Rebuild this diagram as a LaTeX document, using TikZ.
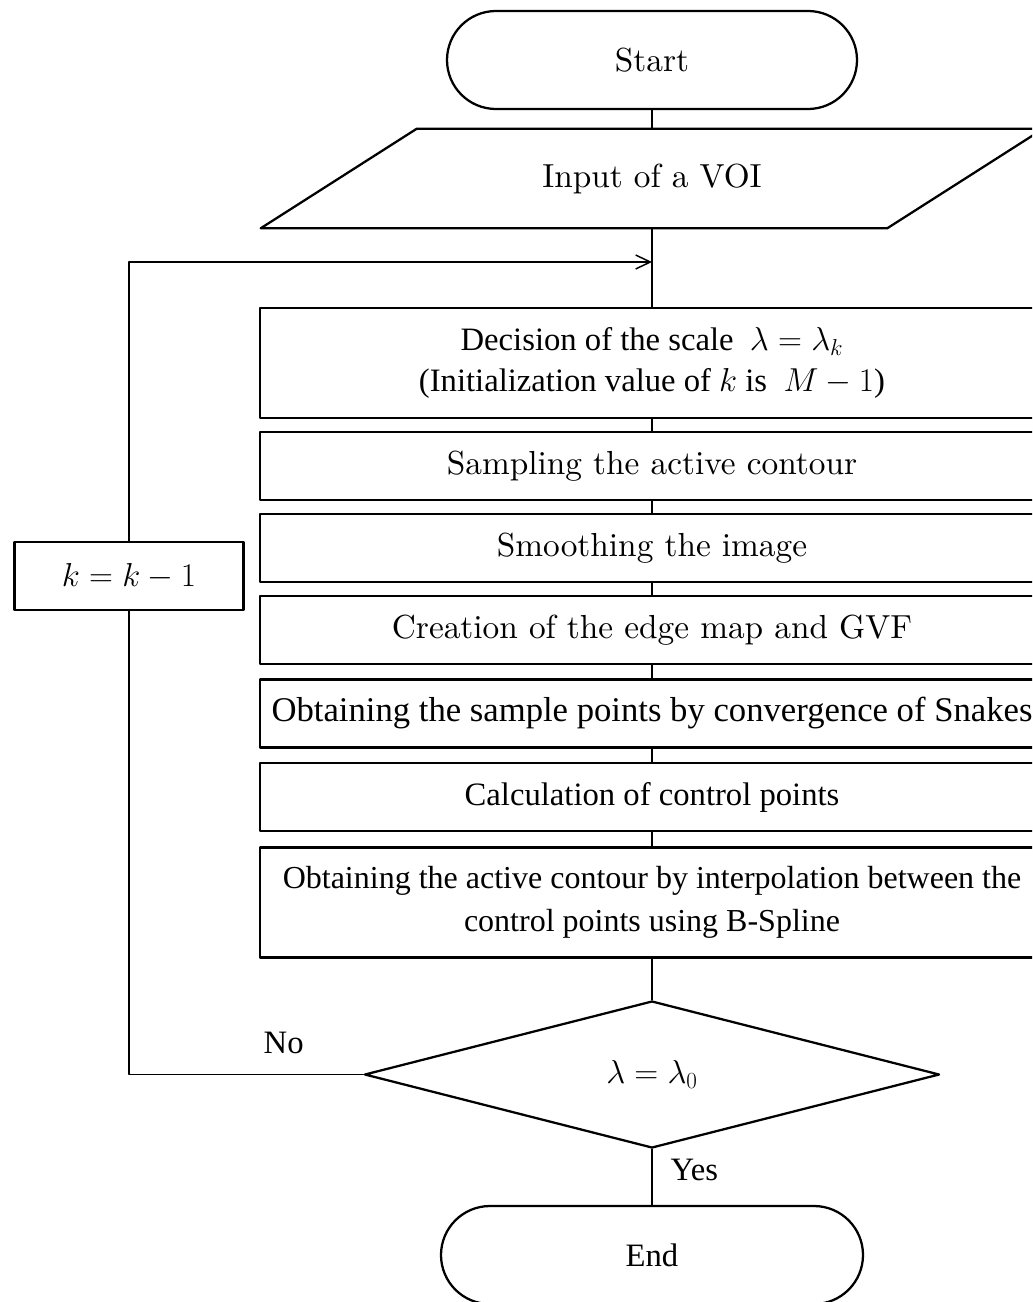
\documentclass[tikz,border=0pt]{standalone}
\usepackage{fontspec}
\newfontfamily\timesfont{Liberation Serif}
\newfontfamily\lmfont{lmroman10-regular.otf}
\usetikzlibrary{arrows.meta}
\usetikzlibrary{positioning}
\usetikzlibrary{shapes.geometric}

\tikzset{
  txt/.style={font=\lmfont\fontsize{25}{31}\selectfont},
  tnr/.style={font=\timesfont\fontsize{24.5}{31}\selectfont},
  box/.style={draw,line width=1.7pt,rectangle,inner sep=0pt,align=center,
    minimum width=588pt,minimum height=51pt},
  tallbox/.style={box,minimum height=82.5pt},
  term/.style={draw,line width=1.7pt,rectangle,rounded corners=36.75pt,
    minimum height=73.5pt,inner sep=0pt},
  io/.style={rectangle,minimum width=469.5pt,minimum height=74.25pt,inner sep=0pt},
  cond/.style={draw,line width=1.7pt,diamond,minimum width=431.25pt,
    minimum height=110.25pt,inner sep=0pt},
  link/.style={line width=1.1pt}
}

\begin{document}
\begin{tikzpicture}[line cap=round,line join=round,>={Straight Barb[length=11pt,width=10.5pt]},x=0.75pt,y=-0.75pt]
\useasboundingbox (0,0) rectangle (1032,1302);
\clip (0,0) rectangle (1032,1302);
% start and input
\node[term,txt,minimum width=307.5pt] (start) at (652,60) {Start};
\node[io,txt] (voi) at (652,178.5) {Input of a VOI};
\draw[line width=1.7pt] ([xshift=-58.5pt]voi.south west) -- ([xshift=58.5pt]voi.north west)
  -- ([xshift=58.5pt]voi.north east) -- ([xshift=-58.5pt]voi.south east) -- cycle;
% one pass of the loop
\node[tallbox,tnr] (scale) at (652,363) {Decision of the scale \ $\lambda=\lambda_k$\\(Initialization value of $k$ is \ $M-1$)};
\node[box,txt] (samp) at (652,466) {Sampling the active contour};
\node[box,txt] (smooth) at (652,548) {Smoothing the image};
\node[box,txt] (gvf) at (652,630) {Creation of the edge map and GVF};
\node[box,tnr,font=\timesfont\fontsize{26}{31}\selectfont] (snake) at (652,713.5) {Obtaining the sample points by convergence of Snakes};
\node[box,tnr] (ctrl) at (652,797) {Calculation of control points};
\node[tallbox,tnr,font=\timesfont\fontsize{24}{32}\selectfont] (spline) at (652,902.5) {Obtaining the active contour by interpolation between the\\control points using B-Spline};
% test, step and end
\node[cond,tnr] (test) at (652,1074.5) {$\lambda=\lambda_0$};
\node[box,txt,minimum width=171.75pt] (kstep) at (129,576) {$k=k-1$};
\node[term,tnr,minimum width=316.5pt] (stop) at (652,1255) {End};
\coordinate (merge) at (652,262);
% connectors
\draw[link] (start) -- (voi);
\draw[link] (voi) -- (scale);
\foreach \a/\b in {scale/samp,samp/smooth,smooth/gvf,gvf/snake,snake/ctrl,ctrl/spline,spline/test}
  \draw[link] (\a) -- (\b);
\draw[link] (test) -- (stop) node[tnr,pos=0.38,anchor=west,xshift=10pt] {Yes};
\draw[link] (test.west) -| (kstep) node[tnr,pos=0.17,above=12pt] {No};
\draw[link,->] (kstep) |- (merge);
\end{tikzpicture}
\end{document}
